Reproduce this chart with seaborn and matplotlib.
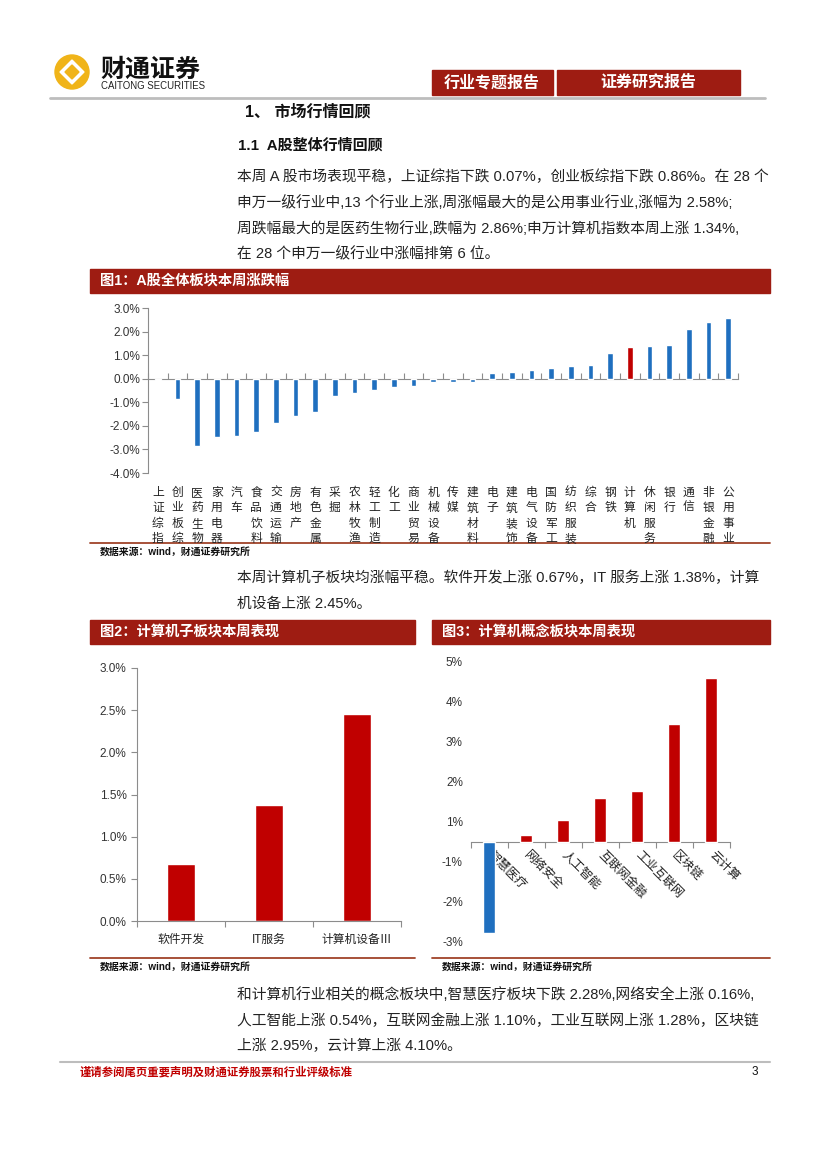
import numpy as np
import pandas as pd
import seaborn as sns
import matplotlib.pyplot as plt
from matplotlib.patches import Rectangle, Circle, Polygon
from matplotlib.ticker import FixedLocator

# ---- data ----
sector_names = ['上证综指', '创业板综', '医药生物', '家用电器', '汽车', '食品饮料', '交通运输',
                '房地产', '有色金属', '采掘', '农林牧渔', '轻工制造', '化工', '商业贸易',
                '机械设备', '传媒', '建筑材料', '电子', '建筑装饰', '电气设备', '国防军工',
                '纺织服装', '综合', '钢铁', '计算机', '休闲服务', '银行', '通信', '非银金融',
                '公用事业']
sector_chg = [-0.07, -0.86, -2.86, -2.49, -2.43, -2.26, -1.86, -1.59, -1.40, -0.74, -0.60,
              -0.47, -0.34, -0.30, -0.13, -0.13, -0.13, 0.24, 0.29, 0.37, 0.46, 0.56, 0.60,
              1.09, 1.34, 1.40, 1.44, 2.13, 2.40, 2.58]
highlight = '计算机'

sub_names = ['软件开发', 'IT服务', '计算机设备Ⅲ']
sub_chg = [0.67, 1.38, 2.45]

concept_names = ['智慧医疗', '网络安全', '人工智能', '互联网金融', '工业互联网', '区块链', '云计算']
concept_chg = [-2.28, 0.16, 0.54, 1.10, 1.28, 2.95, 4.10]
# the original axis labels sit at half-steps (Excel rounding), keep them as printed
concept_ticks = [4.5, 3.5, 2.5, 1.5, 0.5, -0.5, -1.5, -2.5]
concept_tick_labels = ['5%', '4%', '3%', '2%', '1%', '-1%', '-2%', '-3%']

para1 = ['本周 A 股市场表现平稳，上证综指下跌 0.07%，创业板综指下跌 0.86%。在 28 个',
         '申万一级行业中,13 个行业上涨,周涨幅最大的是公用事业行业,涨幅为 2.58%;',
         '周跌幅最大的是医药生物行业,跌幅为 2.86%;申万计算机指数本周上涨 1.34%,',
         '在 28 个申万一级行业中涨幅排第 6 位。']
para2 = ['本周计算机子板块均涨幅平稳。软件开发上涨 0.67%，IT 服务上涨 1.38%，计算',
         '机设备上涨 2.45%。']
para3 = ['和计算机行业相关的概念板块中,智慧医疗板块下跌 2.28%,网络安全上涨 0.16%,',
         '人工智能上涨 0.54%，互联网金融上涨 1.10%，工业互联网上涨 1.28%，区块链',
         '上涨 2.95%，云计算上涨 4.10%。']

BLUE = '#1F6FBF'
RED = '#C00000'
BAR_RED = '#9E1C12'
GREY = '#8C8C8C'
GOLD = '#F0B419'

sns.set_style('white')
plt.rcParams['font.family'] = ['Liberation Sans', 'Noto Sans CJK SC', 'DejaVu Sans']
plt.rcParams['axes.unicode_minus'] = False

W, H = 827, 1170
fig = plt.figure(figsize=(8.27, 11.7), dpi=100)
fig.patch.set_facecolor('white')


def box(l, t, r, b):
    return [l / W, 1 - b / H, (r - l) / W, (b - t) / H]


# page layer in pixel coords
pg = fig.add_axes([0, 0, 1, 1])
pg.set_xlim(0, W)
pg.set_ylim(H, 0)
pg.axis('off')

# logo
pg.add_patch(Circle((72, 72), 17, color=GOLD))
pg.add_patch(Polygon([(72, 60), (84, 72), (72, 84), (60, 72)], color='white'))
pg.add_patch(Polygon([(72, 65), (79, 72), (72, 79), (65, 72)], color=GOLD))
pg.text(100, 70, '财通证券', fontsize=18, fontweight='bold', va='center', color='#111')
pg.text(101, 86, 'CAITONG SECURITIES', fontsize=6.9, va='center', color='#222')

# header boxes
pg.add_patch(Rectangle((432, 70), 121, 25, color=BAR_RED))
pg.text(492, 82.5, '行业专题报告', color='white', fontsize=11.5, fontweight='bold', ha='center', va='center')
pg.add_patch(Rectangle((557, 70), 183, 25, color=BAR_RED))
pg.text(648, 82.5, '证券研究报告', color='white', fontsize=11.5, fontweight='bold', ha='center', va='center')
pg.plot([50, 765], [98, 98], color='#BDBDBD', lw=2)

# headings
pg.text(245, 112, '1、 市场行情回顾', fontsize=11.5, fontweight='bold', va='center', color='#111')
pg.text(238, 145, '1.1  A股整体行情回顾', fontsize=10.8, fontweight='bold', va='center', color='#111')


def paragraph(lines, y0, step=25.7):
    for i, s in enumerate(lines):
        pg.text(237, y0 + i * step, s, fontsize=10.6, va='center', color='#222')


paragraph(para1, 177)
paragraph(para2, 578)
paragraph(para3, 995)


def title_bar(l, r, t, s):
    pg.add_patch(Rectangle((l, t), r - l, 24, color=BAR_RED))
    pg.text(l + 10, t + 12, s, color='white', fontsize=10.3, fontweight='bold', va='center')


def source(l, r, y):
    pg.plot([l, r], [y, y], color='#A0432A', lw=1.3)
    pg.text(l + 10, y + 9, '数据来源：wind，财通证券研究所', fontsize=7.1, fontweight='bold', va='center', color='#111')


title_bar(90, 770, 269, '图1：A股全体板块本周涨跌幅')
source(90, 770, 543)
title_bar(90, 415, 620, '图2：计算机子板块本周表现')
source(90, 415, 958)
title_bar(432, 770, 620, '图3：计算机概念板块本周表现')
source(432, 770, 958)

# footer
pg.plot([60, 770], [1062, 1062], color='#BDBDBD', lw=1.5)
pg.text(80, 1072, '谨请参阅尾页重要声明及财通证券股票和行业评级标准', fontsize=8.2, fontweight='bold',
        color=RED, va='center')
pg.text(752, 1072, '3', fontsize=8.5, va='center', color='#111')

# ---- chart 1 ----
df1 = pd.DataFrame({'name': sector_names, 'chg': sector_chg})
pal1 = {n: (RED if n == highlight else BLUE) for n in sector_names}
ax1 = fig.add_axes(box(148, 308, 738, 473))
sns.barplot(data=df1, x='name', y='chg', hue='name', palette=pal1, legend=False,
            width=0.3, saturation=1, ax=ax1)
ax1.set_xlim(-0.5, len(sector_names) - 0.5)
ax1.set_ylim(-4, 3)
ax1.set_yticks(np.arange(-4, 3.1, 1))
ax1.set_yticklabels(['%.1f%%' % v for v in np.arange(-4, 3.1, 1)], fontsize=8.5, color='#333')
ax1.set_xticks(range(len(sector_names)))
ax1.set_xticklabels(['\n'.join(n) for n in sector_names], fontsize=8.5, color='#222', linespacing=1.38)
ax1.tick_params(axis='x', length=0, pad=10)
ax1.tick_params(axis='y', direction='out', length=4, color=GREY, width=0.8, left=True, pad=1.5)
ax1.set_xlabel('')
ax1.set_ylabel('')
for s in ['top', 'right', 'bottom']:
    ax1.spines[s].set_visible(False)
ax1.spines['left'].set_color(GREY)
ax1.spines['left'].set_linewidth(0.8)
ax1.patch.set_alpha(0)
zero1 = ax1.secondary_xaxis(4 / 7)
zero1.set_alignment('bottom')
zero1.set_xticks(np.arange(-0.5, len(sector_names), 1))
zero1.set_xticklabels([])
zero1.tick_params(direction='in', length=4, color=GREY, width=0.8)
zero1.spines['bottom'].set_color(GREY)
zero1.spines['bottom'].set_linewidth(0.8)

# ---- chart 2 ----
df2 = pd.DataFrame({'name': sub_names, 'chg': sub_chg})
ax2 = fig.add_axes(box(137, 668, 401, 921))
sns.barplot(data=df2, x='name', y='chg', color=RED, width=0.32, saturation=1, ax=ax2)
ax2.set_xlim(-0.5, len(sub_names) - 0.5)
ax2.set_ylim(0, 3)
yt2 = np.arange(0, 3.01, 0.5)
ax2.set_yticks(yt2)
ax2.set_yticklabels(['%.1f%%' % v for v in yt2], fontsize=8.5, color='#333')
ax2.set_xticks(range(len(sub_names)))
ax2.set_xticklabels(sub_names, fontsize=8.5, color='#222')
ax2.xaxis.set_minor_locator(FixedLocator(np.arange(-0.5, len(sub_names), 1)))
ax2.tick_params(axis='x', which='major', length=0, pad=9)
ax2.tick_params(axis='x', which='minor', direction='out', length=4, color=GREY, width=0.8, bottom=True)
ax2.tick_params(axis='y', direction='out', length=4, color=GREY, width=0.8, left=True)
ax2.set_xlabel('')
ax2.set_ylabel('')
for s in ['top', 'right']:
    ax2.spines[s].set_visible(False)
for s in ['left', 'bottom']:
    ax2.spines[s].set_color(GREY)
    ax2.spines[s].set_linewidth(0.8)
ax2.patch.set_alpha(0)

# ---- chart 3 ----
df3 = pd.DataFrame({'name': concept_names, 'chg': concept_chg})
pal3 = {n: (BLUE if v < 0 else RED) for n, v in zip(concept_names, concept_chg)}
ax3 = fig.add_axes(box(470.5, 661.7, 729.5, 941.7))
sns.barplot(data=df3, x='name', y='chg', hue='name', palette=pal3, legend=False,
            width=0.32, saturation=1, ax=ax3)
ax3.set_xlim(-0.5, len(concept_names) - 0.5)
ax3.set_ylim(-2.5, 4.5)
ax3.set_yticks(concept_ticks)
ax3.set_yticklabels(concept_tick_labels, fontsize=8.5, color='#333')
ax3.tick_params(axis='y', length=0, pad=5.5)
ax3.set_xticks([])
ax3.set_xlabel('')
ax3.set_ylabel('')
for s in ['top', 'right', 'bottom', 'left']:
    ax3.spines[s].set_visible(False)
ax3.patch.set_alpha(0)
zero3 = ax3.secondary_xaxis(2.5 / 7)
zero3.set_alignment('bottom')
zero3.set_xticks(range(len(concept_names)))
zero3.set_xticklabels(concept_names, fontsize=8.8, color='#222', rotation=-45,
                      ha='left', va='center', rotation_mode='anchor')
zero3.xaxis.set_minor_locator(FixedLocator(np.arange(-0.5, len(concept_names), 1)))
zero3.tick_params(which='major', length=0, pad=8)
zero3.tick_params(which='minor', direction='out', length=4, color=GREY, width=0.8)
zero3.spines['bottom'].set_color(GREY)
zero3.spines['bottom'].set_linewidth(0.8)

fig.savefig('out.png', dpi=100)
